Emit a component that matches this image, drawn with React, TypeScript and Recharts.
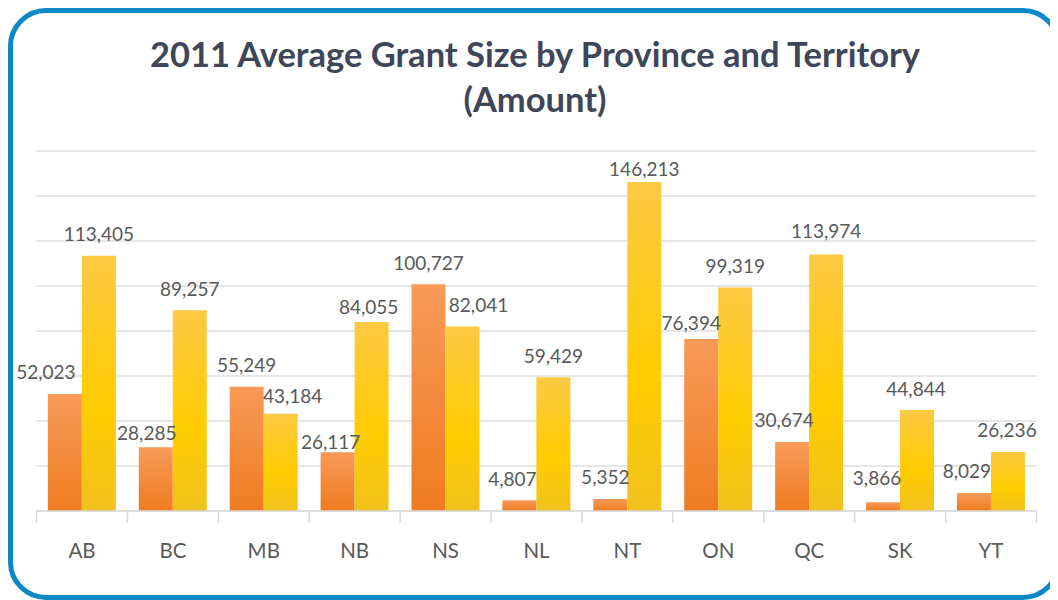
import React from "react";
import { BarChart, Bar, XAxis, YAxis, CartesianGrid, LabelList } from "recharts";

const categories = ["AB", "BC", "MB", "NB", "NS", "NL", "NT", "ON", "QC", "SK", "YT"];
const series2010 = [52023, 28285, 55249, 26117, 100727, 4807, 5352, 76394, 30674, 3866, 8029];
const series2011 = [113405, 89257, 43184, 84055, 82041, 59429, 146213, 99319, 113974, 44844, 26236];
const yTicks = [0, 20000, 40000, 60000, 80000, 100000, 120000, 140000, 160000];

// label nudges (dx, dy) mimicking hand-placed labels
const nudgeA: [number, number][] = [[-19, 0], [-9, 7], [0, 0], [-7, 11], [0, 0], [-7, 0], [-5, 0], [-10, 5], [-8, 0], [-6, -3], [-7, 0]];
const nudgeB: [number, number][] = [[0, 0], [0, 0], [12, 4], [-3, 7], [16, 0], [0, 0], [0, 8], [0, 0], [0, -2], [-1, 0], [-1, 0]];

const data = categories.map((c, i) => ({ name: c, a: series2010[i], b: series2011[i] }));

const FONT = "Lato, 'Open Sans', sans-serif";
const TXT = "#595959";

const fmt = (v: number) => v.toLocaleString("en-US");

const makeLabel = (nudge: [number, number][]) => (props: any) => {
  const { x, y, width, value, index } = props;
  const [dx, dy] = nudge[index] || [0, 0];
  return (
    <text
      x={Number(x) + Number(width) / 2 + dx}
      y={Number(y) - 22 + dy}
      textAnchor="middle"
      dominantBaseline="central"
      fontFamily={FONT}
      fontSize={19}
      fill={TXT}
    >
      {fmt(Number(value))}
    </text>
  );
};

const Tick = (props: any) => {
  const { x, y, payload, index } = props;
  const half = payload && payload.offset ? payload.offset : 1000 / 22;
  const last = index === categories.length - 1;
  return (
    <g>
      <line x1={x - half} x2={x - half} y1={y - 8} y2={y + 4} stroke="#d9d9d9" strokeWidth={1.5} />
      {last && <line x1={x + half} x2={x + half} y1={y - 8} y2={y + 4} stroke="#d9d9d9" strokeWidth={1.5} />}
      <text x={x} y={y + 31} textAnchor="middle" dominantBaseline="central" fontFamily={FONT} fontSize={20.5} fill={TXT}>
        {payload.value}
      </text>
    </g>
  );
};

export default function App() {
  return (
    <div style={{ position: "relative", width: 1050, height: 592, background: "#ffffff" }}>
      <div
        style={{
          position: "absolute",
          left: 0,
          width: 1054,
          top: 23,
          textAlign: "center",
          fontFamily: FONT,
          fontWeight: 700,
          fontSize: 34.5,
          lineHeight: "45px",
          color: "#3e4657",
        }}
      >
        <div>2011 Average Grant Size by Province and Territory</div>
        <div>(Amount)</div>
      </div>
      <BarChart
        width={1050}
        height={592}
        data={data}
        margin={{ top: 143, right: 21.5, bottom: 39, left: 28.5 }}
        barCategoryGap="12.5%"
        barGap={0}
        style={{ position: "absolute", left: 0, top: 0 }}
      >
        <defs>
          <linearGradient id="gA" x1="0" y1="0" x2="0" y2="1">
            <stop offset="0%" stopColor="#f89a58" />
            <stop offset="100%" stopColor="#ef7b20" />
          </linearGradient>
          <linearGradient id="gB" x1="0" y1="0" x2="0" y2="1">
            <stop offset="0%" stopColor="#fcc944" />
            <stop offset="60%" stopColor="#ffcc00" />
            <stop offset="100%" stopColor="#f0c11c" />
          </linearGradient>
        </defs>
        <CartesianGrid vertical={false} stroke="#dedede" strokeWidth={1.5} />
        <YAxis hide domain={[0, 160000]} ticks={yTicks} type="number" />
        <XAxis
          dataKey="name"
          axisLine={{ stroke: "#d9d9d9", strokeWidth: 1.5 }}
          tickLine={false}
          tick={<Tick />}
          height={50}
          interval={0}
        />
        <Bar dataKey="a" fill="url(#gA)" isAnimationActive={false}>
          <LabelList dataKey="a" content={makeLabel(nudgeA)} />
        </Bar>
        <Bar dataKey="b" fill="url(#gB)" isAnimationActive={false}>
          <LabelList dataKey="b" content={makeLabel(nudgeB)} />
        </Bar>
      </BarChart>
      <div
        style={{
          position: "absolute",
          left: 0,
          top: 0,
          width: 1053,
          height: 592,
          boxSizing: "border-box",
          border: "5px solid #0b88c6",
          borderRadius: 38,
          pointerEvents: "none",
        }}
      />
    </div>
  );
}
